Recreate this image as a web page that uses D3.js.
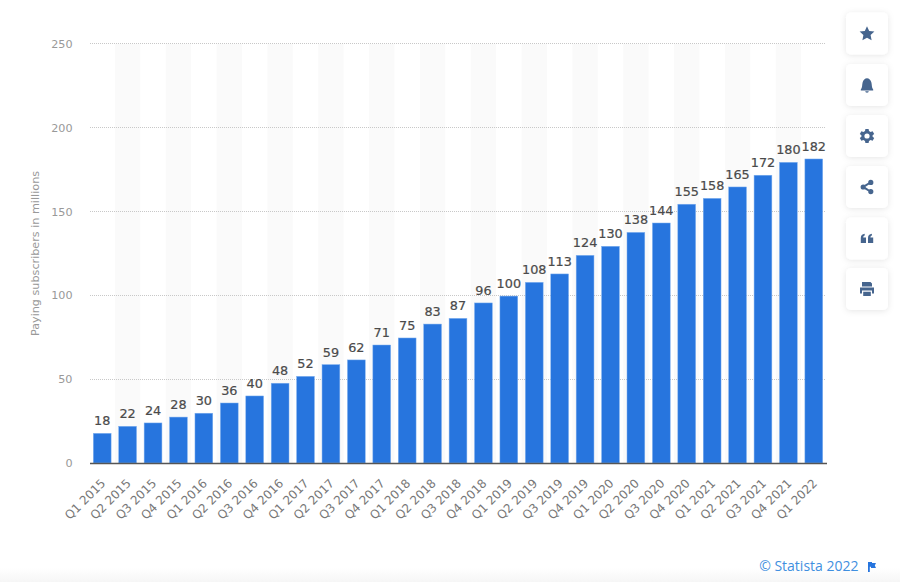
<!DOCTYPE html>
<html>
<head>
<meta charset="utf-8">
<script src="https://cdnjs.cloudflare.com/ajax/libs/d3/7.8.5/d3.min.js"></script>
<style>
  html, body { margin: 0; padding: 0; background: #fff; }
  svg { display: block; font-family: "DejaVu Sans", sans-serif; }
</style>
</head>
<body>
<svg id="chart" width="900" height="582"></svg>
<script>
// quarters on the x axis
const quarters = [
  'Q1 2015','Q2 2015','Q3 2015','Q4 2015',
  'Q1 2016','Q2 2016','Q3 2016','Q4 2016',
  'Q1 2017','Q2 2017','Q3 2017','Q4 2017',
  'Q1 2018','Q2 2018','Q3 2018','Q4 2018',
  'Q1 2019','Q2 2019','Q3 2019','Q4 2019',
  'Q1 2020','Q2 2020','Q3 2020','Q4 2020',
  'Q1 2021','Q2 2021','Q3 2021','Q4 2021',
  'Q1 2022'
];
// paying subscribers in millions
const subscribers = [17.7,21.9,23.9,27.4,29.7,35.8,40,47.6,51.7,58.7,61.5,70.4,74.6,82.9,86.3,95.5,99.6,107.8,112.8,123.9,129.3,137.6,143.2,154.4,157.9,164.7,171.7,179.4,181.4];
// the rounded figures printed over the bars
const barLabels = [18,22,24,28,30,36,40,48,52,59,62,71,75,83,87,96,100,108,113,124,130,138,144,155,158,165,172,180,182];
const yTicks = [0,50,100,150,200,250];

const svg = d3.select('#chart');

const plotLeft = 89.5, plotRight = 826.5, plotTop = 44, plotBottom = 463;

const x = d3.scaleBand().domain(quarters).range([plotLeft, plotRight]).paddingInner(0.3).paddingOuter(0.15);
const y = d3.scaleLinear().domain([0, 250]).range([plotBottom, plotTop]);
const step = x.step();

const defs = svg.append('defs');
const shadow = defs.append('filter').attr('id', 'btnShadow')
  .attr('x', '-30%').attr('y', '-30%').attr('width', '160%').attr('height', '170%');
shadow.append('feDropShadow').attr('dx', 0).attr('dy', 1).attr('stdDeviation', 3)
  .attr('flood-color', '#000').attr('flood-opacity', 0.1);
const fade = defs.append('linearGradient').attr('id', 'bottomFade')
  .attr('x1', 0).attr('y1', 0).attr('x2', 0).attr('y2', 1);
fade.append('stop').attr('offset', 0).attr('stop-color', '#fff');
fade.append('stop').attr('offset', 1).attr('stop-color', '#f6f6f6');

// shade along the bottom edge
svg.append('rect')
  .attr('x', 0).attr('y', 568)
  .attr('width', 900).attr('height', 14)
  .attr('fill', 'url(#bottomFade)');

// alternating stripes
svg.append('g').selectAll('rect')
  .data(quarters.filter((d, i) => i % 2 === 1))
  .join('rect')
  .attr('x', d => x(d) + x.bandwidth() / 2 - step / 2)
  .attr('y', plotTop)
  .attr('width', step)
  .attr('height', plotBottom - plotTop)
  .attr('fill', '#fafafa');

// gridlines, snapped to the pixel on both axes so the dots stay crisp
const gridY = d => Math.floor(y(d) - 0.01) + 0.5;
svg.append('g').selectAll('line')
  .data(yTicks.filter(d => d > 0))
  .join('line')
  .attr('x1', Math.ceil(plotLeft)).attr('x2', Math.floor(plotRight))
  .attr('y1', gridY).attr('y2', gridY)
  .attr('stroke', '#c8c8c8')
  .attr('stroke-width', 1)
  .attr('stroke-dasharray', '1,1');

// y axis
const yAxis = svg.append('g')
  .attr('transform', `translate(${plotLeft},0)`)
  .call(d3.axisLeft(y).tickValues(yTicks).tickSize(0).tickPadding(17));
yAxis.select('.domain').remove();
yAxis.selectAll('text')
  .attr('font-family', '"DejaVu Sans", sans-serif')
  .attr('font-size', 11.2)
  .attr('fill', '#999');

svg.append('text')
  .attr('transform', 'translate(39,253.5) rotate(-90)')
  .attr('text-anchor', 'middle')
  .attr('font-size', 11.2)
  .attr('fill', '#999')
  .text('Paying subscribers in millions');

// bars
svg.append('g').selectAll('rect')
  .data(subscribers)
  .join('rect')
  .attr('x', (d, i) => x(quarters[i]))
  .attr('y', d => y(d))
  .attr('width', x.bandwidth())
  .attr('height', d => plotBottom - y(d))
  .attr('fill', '#2775de')
  .attr('stroke', '#7fb0ef')
  .attr('stroke-width', 0.5);

// value labels
svg.append('g').selectAll('text')
  .data(subscribers)
  .join('text')
  .attr('x', (d, i) => x(quarters[i]) + x.bandwidth() / 2)
  .attr('y', d => y(d) - 8)
  .attr('text-anchor', 'middle')
  .attr('font-size', 12.8)
  .attr('fill', '#4a4a4a')
  .attr('stroke', '#4a4a4a')
  .attr('stroke-width', 0.2)
  .text((d, i) => barLabels[i]);

// x axis
const xAxis = svg.append('g')
  .attr('transform', `translate(0,${plotBottom})`)
  .call(d3.axisBottom(x).tickSize(0).tickPadding(0));
xAxis.select('.domain').attr('stroke', '#555').attr('stroke-width', 1.6);
xAxis.selectAll('text')
  .attr('font-family', '"DejaVu Sans", sans-serif')
  .attr('font-size', 12)
  .attr('fill', '#777')
  .attr('text-anchor', 'end')
  .attr('dy', 0)
  .attr('transform', 'translate(4,21) rotate(-45)');

// credit
svg.append('text')
  .attr('x', 858.5).attr('y', 571)
  .attr('text-anchor', 'end')
  .attr('font-family', '"Open Sans", sans-serif')
  .attr('font-size', 14)
  .attr('fill', '#3f8fe0')
  .text('© Statista 2022');

svg.append('path')
  .attr('transform', 'translate(868,562)')
  .attr('d', 'M0 0H4V1H8L6.8 3.5L8 6H3V4.8H1.8V10H0Z')
  .attr('fill', '#2775de');

// side buttons
const circle = (cx, cy, r) => `M${cx - r} ${cy}A${r} ${r} 0 1 1 ${cx + r} ${cy}A${r} ${r} 0 1 1 ${cx - r} ${cy}Z`;
const buttons = [
  { cy: 33.5, rule: 'nonzero', d: 'M0-7.2L2.2-2.5L7.4-1.9L3.6 1.6L4.6 6.8L0 4.2L-4.6 6.8L-3.6 1.6L-7.4-1.9L-2.2-2.5Z' },
  { cy: 85, rule: 'nonzero', d: 'M-6.2 4.5C-4.6 3-5-.5-4.4-2.5C-3.8-5-2-6.8 0-6.8C2-6.8 3.8-5 4.4-2.5C5-.5 4.6 3 6.2 4.5V5.5H-6.2ZM-1.8 6.3H1.8A1.8 1.4 0 0 1-1.8 6.3Z' },
  { cy: 136, rule: 'evenodd', d: 'M-1.6-7H1.6L2-5L3.6-4.1L5.6-4.8L7.2-2L5.6-.7V.7L7.2 2L5.6 4.8L3.6 4.1L2 5L1.6 7H-1.6L-2 5L-3.6 4.1L-5.6 4.8L-7.2 2L-5.6 .7V-.7L-7.2-2L-5.6-4.8L-3.6-4.1L-2-5Z' + circle(0, 0, 2.6) },
  { cy: 187, rule: 'nonzero', d: circle(3.8, -4.6, 2.6) + circle(-3.8, 0, 2.6) + circle(3.8, 4.6, 2.6) + 'M-4.3-.9L3.3-5.6L4.2-4L-3.3 .9ZM-3.3-.9L4.2 4L3.3 5.6L-4.3 .9Z' },
  { cy: 238.5, rule: 'nonzero', d: 'M-6.2 4.5V-.5C-6.2-3-4.8-4.3-2.3-4.7V-2.9C-3.3-2.7-3.8-2-3.8-1H-1V4.5ZM1 4.5V-.5C1-3 2.4-4.3 4.9-4.7V-2.9C3.9-2.7 3.4-2 3.4-1H6.2V4.5Z' },
  { cy: 289, rule: 'evenodd', d: 'M-5-7H3.5L5-5.5V-2.5H-5ZM-7-1.5H7V4.5H5V1.5H-5V4.5H-7ZM-3.8 2.7H3.8V7H-3.8Z' }
];

const btn = svg.append('g').selectAll('g')
  .data(buttons)
  .join('g')
  .attr('transform', d => `translate(867,${d.cy})`);
btn.append('rect')
  .attr('x', -21).attr('y', -21)
  .attr('width', 42).attr('height', 42)
  .attr('rx', 5)
  .attr('fill', '#fff')
  .attr('filter', 'url(#btnShadow)');
btn.append('path')
  .attr('d', d => d.d)
  .attr('fill', '#46658e')
  .attr('fill-rule', d => d.rule);
</script>
</body>
</html>
